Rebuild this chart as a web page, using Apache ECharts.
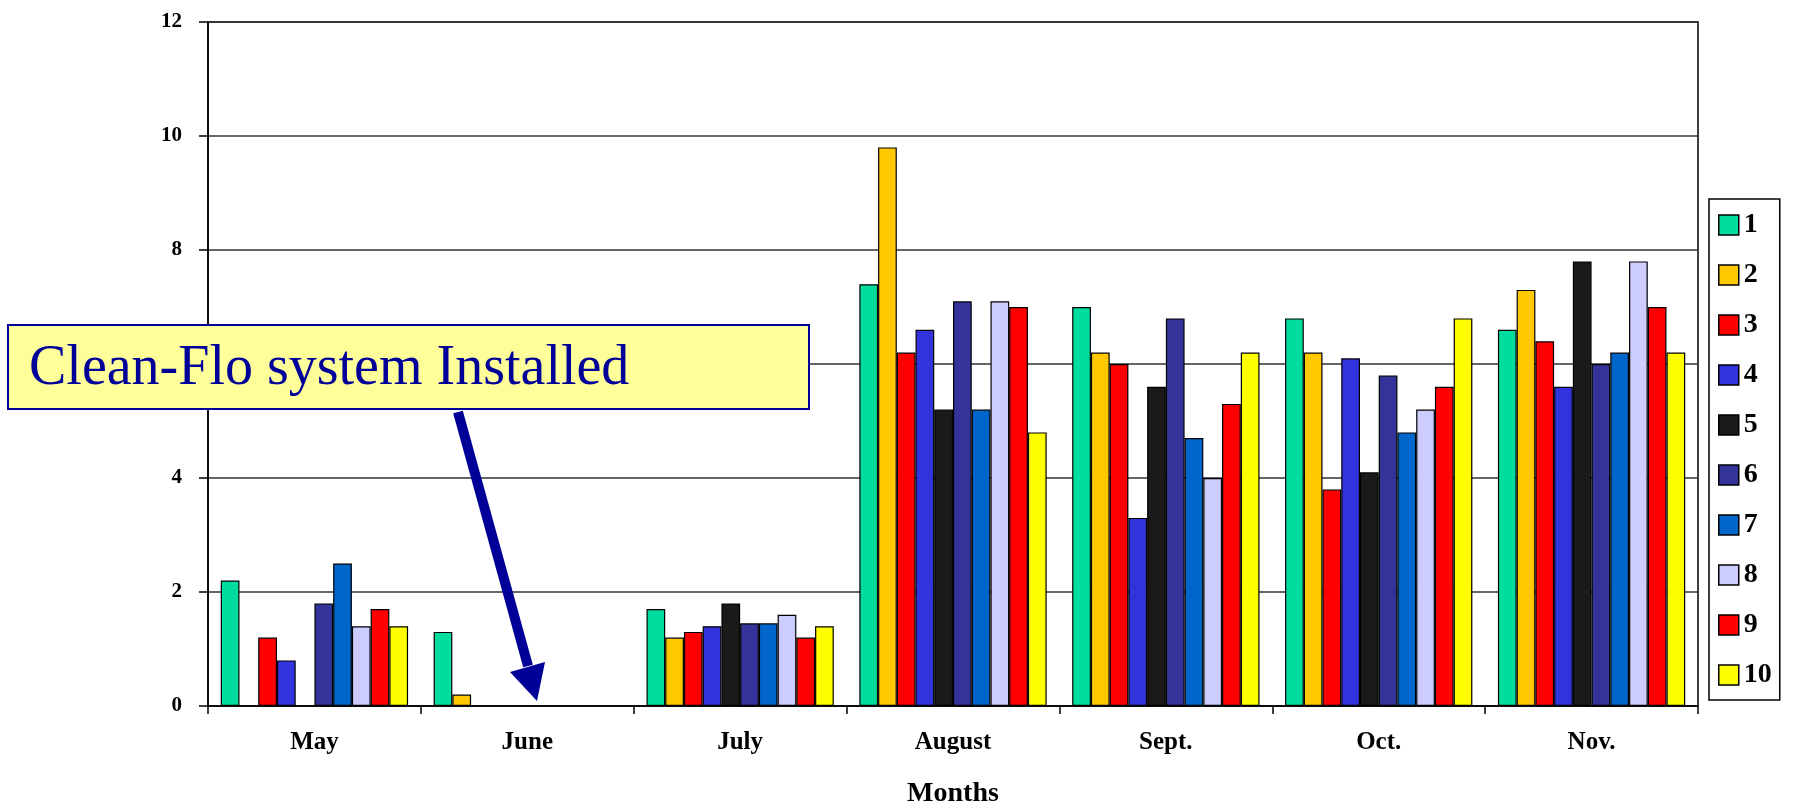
<!DOCTYPE html>
<html>
<head>
<meta charset="utf-8">
<script src="https://cdn.jsdelivr.net/npm/echarts/dist/echarts.min.js"></script>
<style>
  html, body { margin: 0; padding: 0; background: #fff; }
  #chart { width: 1793px; height: 801px; }
</style>
</head>
<body>
<div id="chart"></div>
<script>
  const months = ['May', 'June', 'July', 'August', 'Sept.', 'Oct.', 'Nov.']
  const seriesNames = ['1', '2', '3', '4', '5', '6', '7', '8', '9', '10']
  const colors = ['#00DD9E', '#FFC800', '#FF0000', '#3333DD', '#1A1A1A',
    '#333399', '#0066CC', '#CCCCFF', '#FF0000', '#FFFF00']

  // null = no bar drawn that month
  const s1 = [2.2, 1.3, 1.7, 7.4, 7.0, 6.8, 6.6]
  const s2 = [null, 0.2, 1.2, 9.8, 6.2, 6.2, 7.3]
  const s3 = [1.2, null, 1.3, 6.2, 6.0, 3.8, 6.4]
  const s4 = [0.8, null, 1.4, 6.6, 3.3, 6.1, 5.6]
  const s5 = [null, null, 1.8, 5.2, 5.6, 4.1, 7.8]
  const s6 = [1.8, null, 1.45, 7.1, 6.8, 5.8, 6.0]
  const s7 = [2.5, null, 1.45, 5.2, 4.7, 4.8, 6.2]
  const s8 = [1.4, null, 1.6, 7.1, 4.0, 5.2, 7.8]
  const s9 = [1.7, null, 1.2, 7.0, 5.3, 5.6, 7.0]
  const s10 = [1.4, null, 1.4, 4.8, 6.2, 6.8, 6.2]
  const allSeries = [s1, s2, s3, s4, s5, s6, s7, s8, s9, s10]

  const serif = 'Liberation Serif'
  const navy = '#000099'

  let chart = echarts.init(document.getElementById('chart'), null, {renderer: 'canvas'})
  chart.setOption({
    backgroundColor: '#fff',
    animation: false,
    color: colors,
    grid: {
      left: 208, right: 95, top: 22, bottom: 95,
      outerBoundsMode: 'none',
      containLabel: false,
      show: true, borderColor: '#000', borderWidth: 1.5
    },
    legend: {
      orient: 'vertical',
      left: 1709,
      top: 199,
      padding: [12, 8, 11, 9],
      borderColor: '#000',
      borderWidth: 1.5,
      itemWidth: 20,
      itemHeight: 20,
      itemGap: 22,
      icon: 'rect',
      itemStyle: {borderColor: '#000', borderWidth: 1.5},
      textStyle: {fontFamily: serif, fontWeight: 'bold', fontSize: 28, color: '#000', lineHeight: 20},
      data: seriesNames
    },
    xAxis: {
      type: 'category',
      data: months,
      name: 'Months',
      nameLocation: 'middle',
      nameGap: 74,
      nameTextStyle: {fontFamily: serif, fontWeight: 'bold', fontSize: 28, color: '#000'},
      axisLine: {lineStyle: {color: '#000', width: 1.5}},
      axisTick: {show: true, length: 8, lineStyle: {color: '#000', width: 1.5}},
      axisLabel: {fontFamily: serif, fontWeight: 'bold', fontSize: 25, color: '#000', margin: 24},
      splitLine: {show: false}
    },
    yAxis: {
      type: 'value',
      min: 0,
      max: 12,
      interval: 2,
      axisLine: {show: true, lineStyle: {color: '#000', width: 1.5}},
      axisTick: {show: true, length: 9, lineStyle: {color: '#000', width: 1.5}},
      axisLabel: {fontFamily: serif, fontWeight: 'bold', fontSize: 21, color: '#000', margin: 26},
      splitLine: {lineStyle: {color: '#333', width: 1.5}}
    },
    series: allSeries.map((vals, i) => ({
      name: seriesNames[i],
      type: 'bar',
      data: vals,
      barGap: '0%',
      barCategoryGap: '12%',
      itemStyle: {color: colors[i], borderColor: '#000', borderWidth: 1.2}
    })),
    graphic: [
      {
        type: 'rect', z: 100,
        shape: {x: 8, y: 325, width: 801, height: 84},
        style: {fill: '#FFFF99', stroke: navy, lineWidth: 2}
      },
      {
        type: 'text', z: 101, x: 29, y: 369,
        style: {text: 'Clean-Flo system Installed', fill: navy, font: '56px "Liberation Serif"', verticalAlign: 'middle'}
      },
      {
        type: 'line', z: 100,
        shape: {x1: 458, y1: 412, x2: 528, y2: 666},
        style: {stroke: navy, lineWidth: 10}
      },
      {
        type: 'polygon', z: 100,
        shape: {points: [[510, 672], [545, 662], [537, 701]]},
        style: {fill: navy}
      }
    ]
  })
</script>
</body>
</html>
